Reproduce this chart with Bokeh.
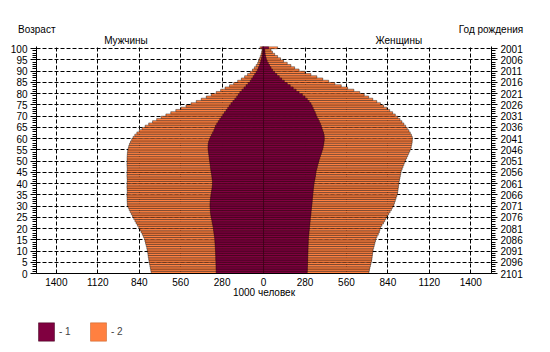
from bokeh.plotting import figure
from bokeh.layouts import column
from bokeh.models import (ColumnDataSource, Range1d, LinearAxis, FixedTicker,
                          Legend, LegendItem)
from bokeh.embed import file_html
from bokeh.resources import INLINE

# ---------------- data (1000 persons, single-year ages 0..100+) ----------------
ages = list(range(101))

male_1 = [320, 320, 321, 321, 322, 322, 323, 323, 324, 324,
          325, 326, 327, 328, 329, 330, 332, 334, 336, 338,
          340, 343, 346, 349, 352, 355, 357, 359, 360, 361,
          362, 361, 360, 358, 356, 354, 352, 349, 347, 345,
          345, 346, 348, 350, 352, 355, 357, 359, 361, 363,
          365, 367, 369, 371, 373, 375, 375, 374, 371, 366,
          360, 352, 344, 336, 330, 325, 316, 306, 296, 286,
          275, 264, 253, 242, 231, 220, 207, 194, 181, 170,
          160, 146, 132, 118, 104, 90, 80, 70, 60, 50,
          40, 34, 28, 23, 18, 14, 11, 8, 6, 5,
          12]

male_2 = [759, 762, 765, 768, 771, 774, 776, 779, 781, 783,
          786, 789, 793, 797, 801, 805, 812, 819, 827, 835,
          843, 852, 861, 869, 877, 885, 893, 901, 908, 915,
          920, 921, 922, 922, 923, 922, 921, 922, 923, 922,
          922, 921, 922, 923, 922, 922, 921, 922, 923, 922,
          922, 922, 921, 920, 918, 915, 911, 906, 899, 891,
          882, 870, 856, 840, 821, 800, 776, 750, 722, 692,
          660, 627, 593, 559, 524, 490, 455, 421, 387, 353,
          320, 290, 260, 230, 202, 175, 150, 128, 108, 90,
          75, 62, 50, 40, 34, 28, 22, 17, 13, 10,
          24]

female_1 = [295, 296, 296, 297, 297, 298, 298, 299, 299, 300,
            300, 301, 301, 302, 302, 303, 304, 306, 307, 309,
            310, 312, 313, 315, 316, 318, 320, 321, 323, 324,
            326, 328, 329, 330, 332, 333, 335, 336, 338, 340,
            342, 345, 348, 351, 353, 355, 359, 363, 367, 371,
            375, 380, 385, 390, 395, 400, 403, 406, 408, 410,
            410, 409, 405, 400, 395, 390, 384, 377, 370, 362,
            355, 349, 342, 335, 328, 320, 308, 295, 280, 262,
            240, 220, 200, 180, 160, 140, 122, 106, 90, 75,
            60, 50, 40, 32, 24, 18, 14, 11, 9, 8,
            34]

female_2 = [712, 715, 718, 722, 726, 730, 732, 734, 736, 738,
            740, 744, 748, 752, 756, 760, 767, 775, 782, 786,
            790, 800, 810, 819, 827, 835, 845, 855, 864, 872,
            880, 885, 890, 895, 900, 905, 907, 909, 911, 913,
            915, 918, 921, 924, 927, 930, 936, 942, 948, 954,
            960, 967, 974, 981, 988, 995, 998, 1001, 1004, 1005,
            1005, 999, 991, 982, 971, 960, 948, 935, 922, 907,
            890, 872, 852, 832, 811, 790, 765, 738, 710, 680,
            650, 610, 568, 525, 482, 440, 400, 360, 320, 280,
            240, 210, 185, 160, 135, 115, 95, 75, 60, 50,
            95]

x_ticks = [-1400, -1120, -840, -560, -280, 0, 280, 560, 840, 1120, 1400]
x_tick_labels = ["1400", "1120", "840", "560", "280", "0", "280", "560", "840", "1120", "1400"]
age_ticks = list(range(0, 101, 5))
age_tick_labels = [str(a) for a in age_ticks]
birth_year_labels = [str(2101 - a) for a in age_ticks]

series_labels = ["- 1", "- 2"]
title_left = "Возраст"
title_right = "Год рождения"
title_men = "Мужчины"
title_women = "Женщины"
x_title = "1000 человек"

# ---------------- styling ----------------
FONT = "Liberation Sans"
FS = "10px"
C1 = "#800040"
C2 = "#ff8040"

W = 550
H_MAIN, H_LEG = 306, 46
FL, FR, FT, FB = 36, 491, 46, 273  # frame edges in px
XR = (-1534, 1540)
YR = (0, 101)

p = figure(width=W, height=H_MAIN, output_backend="svg", toolbar_location=None,
           x_range=Range1d(*XR), y_range=Range1d(*YR),
           min_border_left=FL, min_border_right=W - FR,
           min_border_top=FT, min_border_bottom=H_MAIN - FB)
p.outline_line_color = None
p.background_fill_color = "white"
p.border_fill_color = "white"

bottoms = ages
tops = [a + 1 for a in ages]
zeros = [0] * len(ages)

src2 = ColumnDataSource(dict(
    left=[-v for v in male_2] + zeros,
    right=zeros + female_2,
    bottom=bottoms + bottoms,
    top=tops + tops))
src1 = ColumnDataSource(dict(
    left=[-v for v in male_1] + zeros,
    right=zeros + female_1,
    bottom=bottoms + bottoms,
    top=tops + tops))

r2 = p.quad(left="left", right="right", bottom="bottom", top="top", source=src2,
            fill_color=C2, line_color="black", line_width=0.4)
r1 = p.quad(left="left", right="right", bottom="bottom", top="top", source=src1,
            fill_color=C1, line_color="#2a0010", line_width=0.5)

# grids
p.xgrid.ticker = FixedTicker(ticks=x_ticks)
p.ygrid.ticker = FixedTicker(ticks=age_ticks)
for g in (p.xgrid, p.ygrid):
    g.grid_line_color = "black"
    g.grid_line_dash = "4 2"
    g.grid_line_width = 1

# bottom axis
xa = p.xaxis[0]
xa.ticker = FixedTicker(ticks=x_ticks, minor_ticks=[])
xa.major_label_overrides = {t: l for t, l in zip(x_ticks, x_tick_labels)}
xa.major_tick_out = 0
xa.major_tick_in = 0
xa.minor_tick_out = 0
xa.major_label_standoff = 4
xa.axis_label = x_title
xa.axis_label_standoff = -2
xa.axis_label_text_font_style = "normal"

# left axis
ya = p.yaxis[0]
ya.ticker = FixedTicker(ticks=age_ticks, minor_ticks=ages)
ya.major_label_overrides = {t: l for t, l in zip(age_ticks, age_tick_labels)}

# right axis (year of birth)
yr = LinearAxis(ticker=FixedTicker(ticks=age_ticks, minor_ticks=ages))
yr.major_label_overrides = {t: l for t, l in zip(age_ticks, birth_year_labels)}
p.add_layout(yr, "right")

for ax in (ya, yr):
    ax.major_tick_out = 6
    ax.major_tick_in = 0
    ax.minor_tick_out = 4
    ax.minor_tick_in = 0
    ax.major_label_standoff = 3

# header texts carried by label-only axes above the frame
xs = (XR[1] - XR[0]) / (FR - FL)
def px2x(px):
    return XR[0] + (px - FL) * xs

sex_pos = [px2x(125.5), px2x(398.3)]
head_pos = [px2x(36.3), px2x(490.5)]
ax_sex = LinearAxis(ticker=FixedTicker(ticks=sex_pos, minor_ticks=[]))
ax_sex.major_label_overrides = {sex_pos[0]: title_men, sex_pos[1]: title_women}
ax_head = LinearAxis(ticker=FixedTicker(ticks=head_pos, minor_ticks=[]))
ax_head.major_label_overrides = {head_pos[0]: title_left, head_pos[1]: title_right}
p.add_layout(ax_sex, "above")
p.add_layout(ax_head, "above")
for ax in (ax_sex, ax_head):
    ax.axis_line_color = None
    ax.major_tick_line_color = None
    ax.minor_tick_line_color = None
    ax.major_tick_out = 0
    ax.major_tick_in = 0
    ax.minor_tick_out = 0
    ax.minor_tick_in = 0
ax_sex.major_label_standoff = 1
ax_head.major_label_standoff = -3

for ax in (xa, ya, yr):
    ax.axis_line_color = "black"
    ax.major_tick_line_color = "black"
    ax.minor_tick_line_color = "black"
for ax in (xa, ya, yr, ax_sex, ax_head):
    ax.major_label_text_font = FONT
    ax.major_label_text_font_size = FS
    ax.major_label_text_color = "black"
    ax.axis_label_text_font = FONT
    ax.axis_label_text_font_size = FS
    ax.axis_label_text_color = "black"

# ---------------- legend strip below the chart ----------------
pl = figure(width=W, height=H_LEG, output_backend="svg", toolbar_location=None,
            x_range=Range1d(0, 1), y_range=Range1d(0, 1),
            x_axis_location=None, y_axis_location=None,
            min_border=0, outline_line_color=None)
pl.xgrid.visible = False
pl.ygrid.visible = False
pl.background_fill_color = "white"
pl.border_fill_color = "white"
# legend keys (sample glyphs kept outside the visible range)
k1 = pl.quad(left=[5], right=[6], bottom=[5], top=[6], fill_color=C1,
             line_color="#3a0018", line_width=0.5)
k2 = pl.quad(left=[5], right=[6], bottom=[5], top=[6], fill_color=C2,
             line_color="#c05a20", line_width=0.5)
legend = Legend(items=[LegendItem(label=series_labels[0], renderers=[k1]),
                       LegendItem(label=series_labels[1], renderers=[k2])],
                location=(0, 9), orientation="horizontal",
                glyph_width=20, glyph_height=23, label_height=23,
                label_standoff=3, spacing=9, padding=0, margin=0,
                border_line_color=None, background_fill_alpha=0,
                label_text_font=FONT, label_text_font_size=FS)
pl.add_layout(legend, "center")

page = column(p, pl, spacing=0)
open("out.html", "w").write(file_html(page, INLINE))
